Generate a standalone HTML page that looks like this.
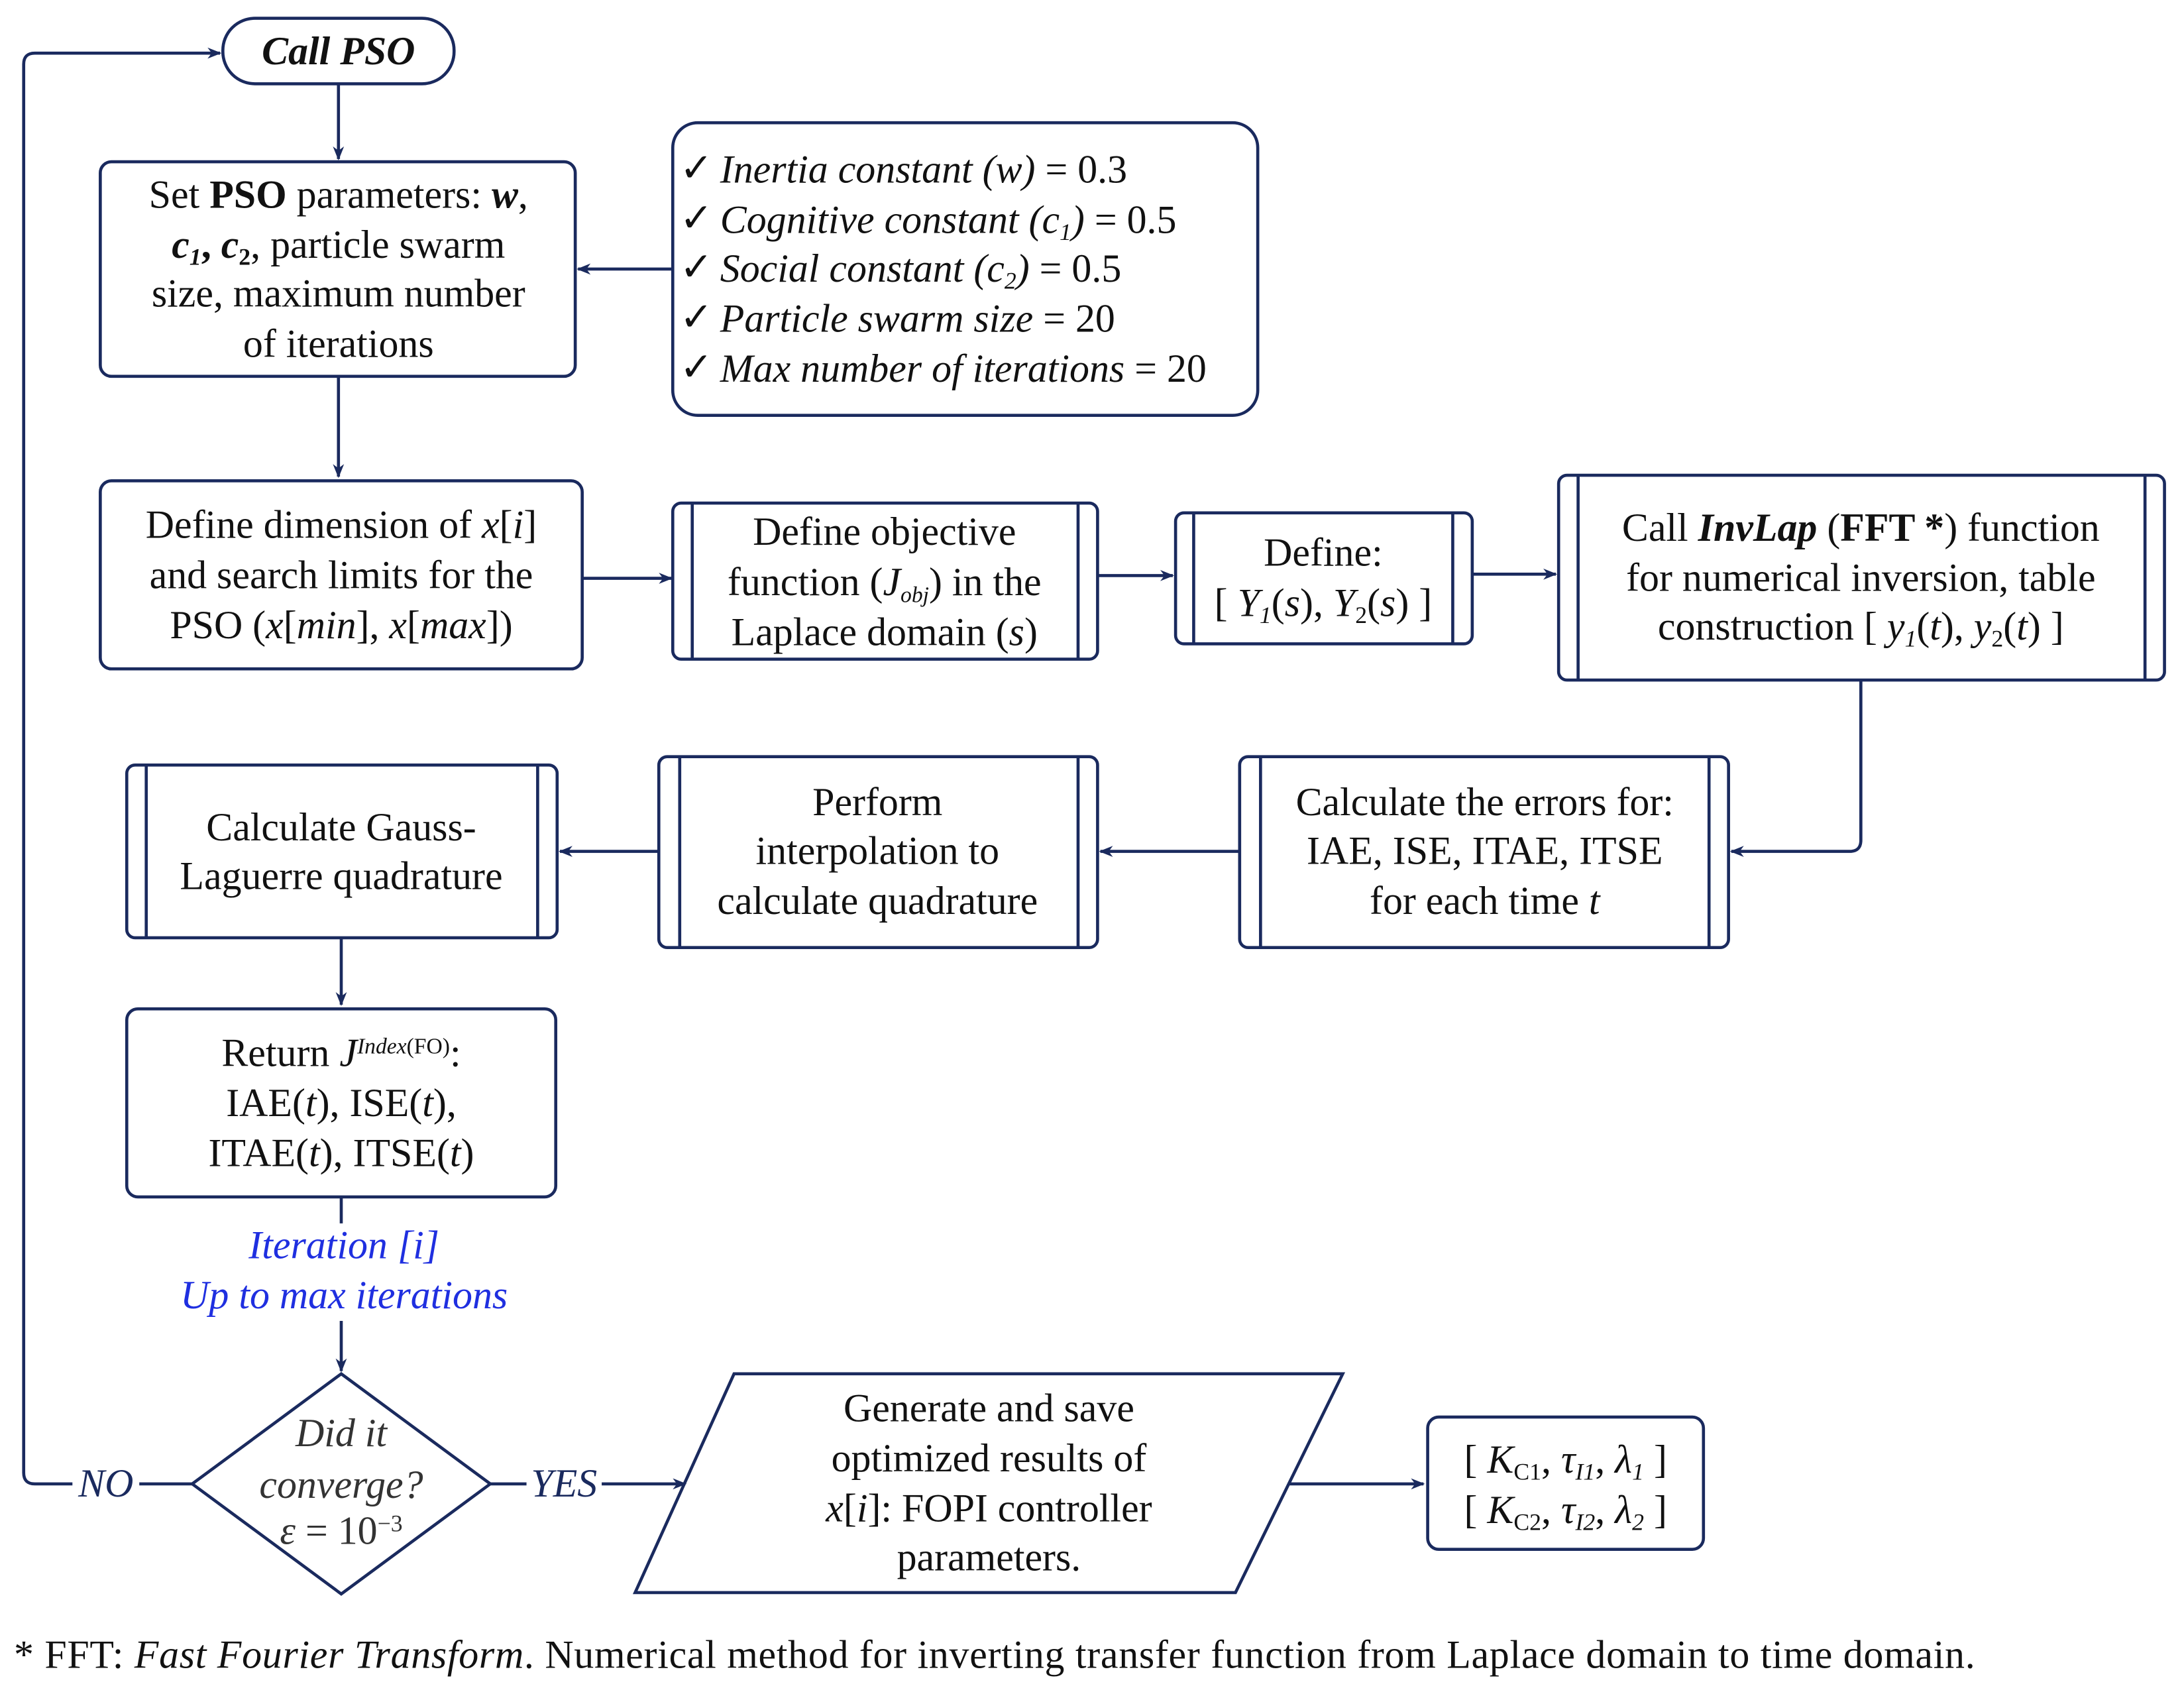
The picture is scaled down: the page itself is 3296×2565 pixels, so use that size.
<!DOCTYPE html>
<html><head><meta charset="utf-8"><style>
html,body{margin:0;padding:0;background:#fff;}
svg{display:block;}
text{font-family:"Liberation Serif",serif;font-size:28.5px;fill:#111;}
.it{font-style:italic;}
.b{font-weight:bold;}
</style></head><body>
<svg width="3296" height="2565" viewBox="0 0 1568 1220" xmlns="http://www.w3.org/2000/svg">
<defs><marker id="a" markerWidth="10" markerHeight="10" refX="9" refY="5" orient="auto" markerUnits="userSpaceOnUse"><path d="M0,1 L10,5 L0,9 L3,5 Z" fill="#1a2a5e"/></marker></defs>
<g fill="none" stroke="#1a2a5e" stroke-width="2.2">
<rect x="160" y="13" width="166" height="47" rx="23"/>
<path d="M52,1065 H25 Q17,1065 17,1057 V46 Q17,38 25,38 H158" marker-end="url(#a)"/>
<path d="M243,60 V114" marker-end="url(#a)"/>
<rect x="72" y="116" width="341" height="154" rx="8"/>
<rect x="483" y="88" width="420" height="210" rx="18"/>
<path d="M483,193 H415" marker-end="url(#a)"/>
<path d="M243,270 V342" marker-end="url(#a)"/>
<rect x="72" y="345" width="346" height="135" rx="8"/>
<path d="M418,415 H482" marker-end="url(#a)"/>
<rect x="483" y="361" width="305" height="112" rx="6"/><path d="M497,361 V473 M774,361 V473"/>
<path d="M788,413 H842" marker-end="url(#a)"/>
<rect x="844" y="368" width="213" height="94" rx="6"/><path d="M857,368 V462 M1043,368 V462"/>
<path d="M1057,412 H1117" marker-end="url(#a)"/>
<rect x="1119" y="341" width="435" height="147" rx="6"/><path d="M1133,341 V488 M1540,341 V488"/>
<path d="M1336,488 V603 Q1336,611 1328,611 H1243" marker-end="url(#a)"/>
<rect x="890" y="543" width="351" height="137" rx="6"/><path d="M905,543 V680 M1227,543 V680"/>
<path d="M890,611 H790" marker-end="url(#a)"/>
<rect x="473" y="543" width="315" height="137" rx="6"/><path d="M488,543 V680 M774,543 V680"/>
<path d="M473,611 H402" marker-end="url(#a)"/>
<rect x="91" y="549" width="309" height="124" rx="6"/><path d="M105,549 V673 M386,549 V673"/>
<path d="M245,673 V721" marker-end="url(#a)"/>
<rect x="91" y="724" width="308" height="135" rx="8"/>
<path d="M245,859 V878 M245,948 V984" marker-end="url(#a)"/>
<path d="M245,986 L352,1065 L245,1144 L138,1065 Z"/>
<path d="M138,1065 H100"/>
<path d="M352,1065 H378 M432,1065 H492" marker-end="url(#a)"/>
<path d="M527,986 H964 L887,1143 H456 Z"/>
<path d="M925,1065 H1022" marker-end="url(#a)"/>
<rect x="1025" y="1017" width="198" height="95" rx="8"/>
</g>
<text x="243" y="46" text-anchor="middle" class="it b">Call PSO</text>
<g text-anchor="middle">
<text x="243" y="149">Set <tspan class="b">PSO</tspan> parameters: <tspan class="b it">w</tspan>,</text>
<text x="243" y="185"><tspan class="b it">c</tspan><tspan class="b it" font-size="17" dy="5">1</tspan><tspan dy="-5" class="b">, </tspan><tspan class="b it">c</tspan><tspan class="b" font-size="17" dy="5">2</tspan><tspan dy="-5">, particle swarm</tspan></text>
<text x="243" y="220">size, maximum number</text>
<text x="243" y="256">of iterations</text>
<text x="245" y="386">Define dimension of <tspan class="it">x</tspan>[<tspan class="it">i</tspan>]</text>
<text x="245" y="422">and search limits for the</text>
<text x="245" y="458">PSO (<tspan class="it">x</tspan>[<tspan class="it">min</tspan>], <tspan class="it">x</tspan>[<tspan class="it">max</tspan>])</text>
<text x="635" y="391">Define objective</text>
<text x="635" y="427">function (<tspan class="it">J</tspan><tspan class="it" font-size="16" dy="5">obj</tspan><tspan dy="-5">) in the</tspan></text>
<text x="635" y="463">Laplace domain (<tspan class="it">s</tspan>)</text>
<text x="950" y="406">Define:</text>
<text x="950" y="442">[ <tspan class="it">Y</tspan><tspan font-size="17" dy="5" class="it">1</tspan><tspan dy="-5">(</tspan><tspan class="it">s</tspan>), <tspan class="it">Y</tspan><tspan font-size="17" dy="5">2</tspan><tspan dy="-5">(</tspan><tspan class="it">s</tspan>) ]</text>
<text x="1336" y="388">Call <tspan class="b it">InvLap</tspan> (<tspan class="b">FFT *</tspan>) function</text>
<text x="1336" y="424">for numerical inversion, table</text>
<text x="1336" y="459">construction [ <tspan class="it">y</tspan><tspan font-size="17" dy="5" class="it">1</tspan><tspan dy="-5">(</tspan><tspan class="it">t</tspan>), <tspan class="it">y</tspan><tspan font-size="17" dy="5">2</tspan><tspan dy="-5">(</tspan><tspan class="it">t</tspan>) ]</text>
<text x="1066" y="585">Calculate the errors for:</text>
<text x="1066" y="620">IAE, ISE, ITAE, ITSE</text>
<text x="1066" y="656">for each time <tspan class="it">t</tspan></text>
<text x="630" y="585">Perform</text>
<text x="630" y="620">interpolation to</text>
<text x="630" y="656">calculate quadrature</text>
<text x="245" y="603">Calculate Gauss-</text>
<text x="245" y="638">Laguerre quadrature</text>
<text x="245" y="765">Return <tspan class="it">J</tspan><tspan class="it" font-size="16" dy="-9">Index</tspan><tspan font-size="16">(FO)</tspan><tspan dy="9">:</tspan></text>
<text x="245" y="801">IAE(<tspan class="it">t</tspan>),  ISE(<tspan class="it">t</tspan>),</text>
<text x="245" y="837">ITAE(<tspan class="it">t</tspan>), ITSE(<tspan class="it">t</tspan>)</text>
<text x="247" y="903" class="it" style="fill:#1f2fe0">Iteration [<tspan>i</tspan>]</text>
<text x="247" y="939" class="it" style="fill:#1f2fe0">Up to max iterations</text>
<text x="245" y="1038" class="it" style="fill:#333">Did it</text>
<text x="245" y="1075" class="it" style="fill:#333">converge?</text>
<text x="245" y="1108" style="fill:#333"><tspan class="it">ε</tspan> = 10<tspan font-size="17" dy="-9">−3</tspan></text>
<text x="710" y="1020">Generate and save</text>
<text x="710" y="1056">optimized results of</text>
<text x="710" y="1092"><tspan class="it">x</tspan>[<tspan class="it">i</tspan>]: FOPI controller</text>
<text x="710" y="1127">parameters.</text>
<text x="1124" y="1057">[ <tspan class="it">K</tspan><tspan font-size="17" dy="5">C1</tspan><tspan dy="-5">, </tspan><tspan class="it">τ</tspan><tspan class="it" font-size="17" dy="5">I1</tspan><tspan dy="-5">, </tspan><tspan class="it">λ</tspan><tspan class="it" font-size="17" dy="5">1</tspan><tspan dy="-5"> ]</tspan></text>
<text x="1124" y="1093">[ <tspan class="it">K</tspan><tspan font-size="17" dy="5">C2</tspan><tspan dy="-5">, </tspan><tspan class="it">τ</tspan><tspan class="it" font-size="17" dy="5">I2</tspan><tspan dy="-5">, </tspan><tspan class="it">λ</tspan><tspan class="it" font-size="17" dy="5">2</tspan><tspan dy="-5"> ]</tspan></text>
</g>
<text x="76" y="1074" text-anchor="middle" class="it" style="fill:#1a2a5e">NO</text>
<text x="405" y="1074" text-anchor="middle" class="it" style="fill:#1a2a5e">YES</text>
<g>
<text x="488" y="130" font-size="15">✓</text><text x="517" y="131" class="it">Inertia constant (w)<tspan font-style="normal"> = 0.3</tspan></text>
<text x="488" y="166" font-size="15">✓</text><text x="517" y="167" class="it">Cognitive constant (c<tspan font-size="17" dy="5">1</tspan><tspan dy="-5">)</tspan><tspan font-style="normal"> = 0.5</tspan></text>
<text x="488" y="201" font-size="15">✓</text><text x="517" y="202" class="it">Social constant (c<tspan font-size="17" dy="5">2</tspan><tspan dy="-5">)</tspan><tspan font-style="normal"> = 0.5</tspan></text>
<text x="488" y="237" font-size="15">✓</text><text x="517" y="238" class="it">Particle swarm size<tspan font-style="normal"> = 20</tspan></text>
<text x="488" y="273" font-size="15">✓</text><text x="517" y="274" class="it">Max number of iterations<tspan font-style="normal"> = 20</tspan></text>
</g>
<text x="10" y="1197" font-size="25" textLength="1408" lengthAdjust="spacing">* FFT: <tspan class="it">Fast Fourier Transform</tspan>. Numerical method for inverting transfer function from Laplace domain to time domain.</text>
</svg>
</body></html>
